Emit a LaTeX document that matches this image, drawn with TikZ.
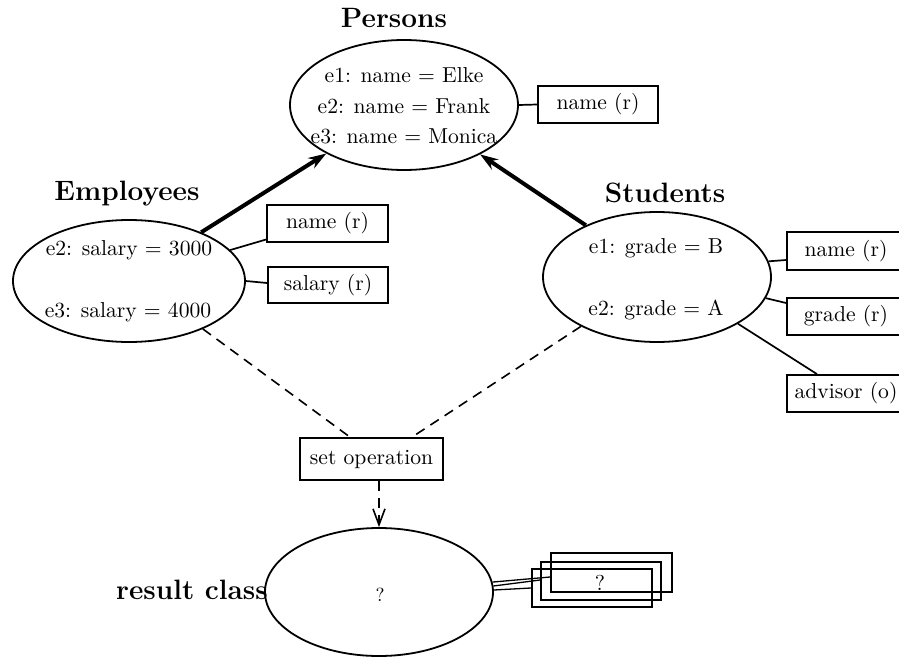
\documentclass[tikz,border=0pt]{standalone}
\usetikzlibrary{shapes.geometric,arrows.meta}
\newcommand{\dgnorm}{\fontsize{10.8}{13}\selectfont}
\newcommand{\dglab}{\fontsize{14}{16}\selectfont\bfseries}
\begin{document}
\begin{tikzpicture}[x=0.5pt,y=-0.5pt,
  ell/.style={draw, ellipse, line width=0.9pt, inner sep=0pt},
  attr/.style={draw, rectangle, line width=0.9pt, inner sep=0pt, font=\dgnorm},
  txt/.style={inner sep=0pt, font=\dgnorm, anchor=base},
  lab/.style={inner sep=0pt, font=\dglab, anchor=base},
  link/.style={line width=0.85pt},
  thinlink/.style={line width=0.65pt},
  isa/.style={line width=2pt, -{Stealth[length=9pt,width=6pt]}},
  dashlink/.style={line width=0.8pt, dash pattern=on 5pt off 3.5pt},
]
\useasboundingbox (0,0) rectangle (899,658);
\fill[white] (0,0) rectangle (899,658);
\clip (0,0) rectangle (899,658);

% ---------- ellipses ----------
\node[ell, minimum width=114pt, minimum height=65pt] (pers) at (404,105) {};
\node[ell, minimum width=116pt, minimum height=61pt] (emp) at (129,281) {};
\node[ell, minimum width=114pt, minimum height=65pt] (stu) at (657,277) {};
\node[ell, minimum width=114pt, minimum height=64pt] (res) at (379,592) {};

% ---------- class labels ----------
\node[lab] (lpers) at (394,28) {Persons};
\node[lab] (lemp) at (127,200) {Employees};
\node[lab] (lstu) at (665,202) {Students};
\node[lab] (lres) at (192,599) {result class};

% ---------- ellipse contents ----------
\node[txt] (p1) at (404,83) {e1: name = Elke};
\node[txt] (p2) at (404,113) {e2: name = Frank};
\node[txt] (p3) at (404,143) {e3: name = Monica};
\node[txt] (e2) at (129,255) {e2: salary = 3000};
\node[txt] (e3) at (128,317) {e3: salary = 4000};
\node[txt] (s1) at (656,253) {e1: grade = B};
\node[txt] (s2) at (656,315) {e2: grade = A};
\node[inner sep=0pt, anchor=base, font=\fontsize{9.5}{11}\selectfont] (rq) at (380,601) {?};

% ---------- attribute boxes ----------
\node[attr, minimum width=60pt, minimum height=18.5pt] (pname) at (598,104.5) {name (r)};
\node[attr, minimum width=60.5pt, minimum height=18.5pt] (ename) at (327.5,223.5) {name (r)};
\node[attr, minimum width=60pt, minimum height=18pt] (esal) at (328,285) {salary (r)};
\node[attr, minimum width=59pt, minimum height=19pt] (sname) at (846,251) {name (r)};
\node[attr, minimum width=59pt, minimum height=18.5pt] (sgrade) at (846,316.5) {grade (r)};
\node[attr, minimum width=59pt, minimum height=18.5pt] (sadv) at (846,393.5) {advisor (o)};
\node[attr, minimum width=71.5pt, minimum height=21pt] (setop) at (371.5,459) {set operation};

% ---------- result stack ----------
\node[attr, minimum width=60.5pt, minimum height=19.5pt] (r1) at (611.5,572.5) {};
\node[attr, minimum width=60pt, minimum height=19pt] (r2) at (601,581) {};
\node[attr, minimum width=60pt, minimum height=19pt] (r3) at (592,588) {};
\node[txt] (rq2) at (600,590) {?};

% ---------- connectors ----------
\draw[isa] (emp.34) -- (pers.-148);
\draw[isa] (stu.144) -- (pers.-33);

\draw[link] (pers.east) -- (pname.west);
\draw[link] (emp.17) -- ([yshift=-8pt]ename.west);
\draw[link] (emp.east) -- ([yshift=1pt]esal.west);
\draw[link] (stu.8) -- ([yshift=-4.5pt]sname.west);
\draw[link] (stu.-11) -- ([yshift=6.75pt]sgrade.west);
\draw[link] (stu.-30) -- ([xshift=-14.5pt]sadv.north);

\draw[dashlink] (emp.-33) -- ([xshift=-10.75pt]setop.north);
\draw[dashlink] (stu.-147) -- ([xshift=20.25pt]setop.north);
\draw[dashlink, -{Straight Barb[length=8pt,width=6pt]}] ([xshift=3.75pt]setop.south) -- (res.north);

\draw[thinlink] (res.5) -- ([yshift=-2.25pt]r1.west);
\draw[thinlink] (res.3) -- ([yshift=0.5pt]r2.west);
\draw[thinlink] (res.1) -- (r3.west);
\end{tikzpicture}
\end{document}
